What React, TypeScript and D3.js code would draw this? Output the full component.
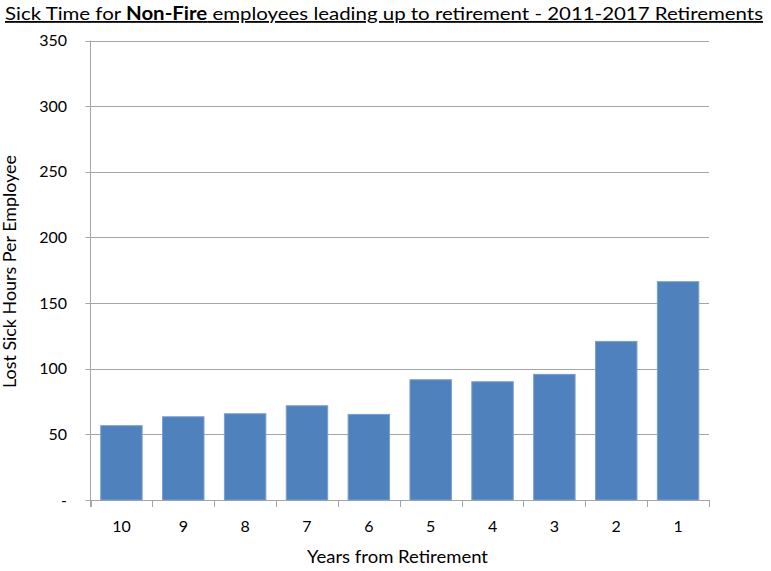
import React from "react";
import * as d3 from "d3";

const categories = ["10", "9", "8", "7", "6", "5", "4", "3", "2", "1"];
const values = [56.6, 63.4, 65.7, 71.8, 65.2, 91.6, 90.1, 95.7, 120.8, 166.3];
const yTicks = [0, 50, 100, 150, 200, 250, 300, 350];

const W = 771;
const H = 571;
const M = { left: 90.5, right: 62, top: 40.5, bottom: 71 };
const FONT = "Lato, 'Open Sans', sans-serif";

export default function App() {
  const x = d3
    .scaleBand<string>()
    .domain(categories)
    .range([M.left, W - M.right])
    .paddingInner(0.33)
    .paddingOuter(0.165);
  const y = d3.scaleLinear().domain([0, 350]).range([H - M.bottom, M.top]);
  const bandStep = (W - M.right - M.left) / categories.length;

  return (
    <svg width={W} height={H} style={{ position: "absolute", left: 0, top: 0, background: "#fff" }}>
      <text
        x={5}
        y={20}
        fontFamily={FONT}
        fontSize={18}
        textDecoration="underline"
        textLength={758}
        lengthAdjust="spacingAndGlyphs"
        fill="#000"
      >
        Sick Time for <tspan fontWeight="bold">Non-Fire</tspan> employees leading up to retirement - 2011-2017 Retirements
      </text>

      {yTicks.map((t) => (
        <g key={t}>
          <line x1={M.left - 5} x2={W - M.right} y1={Math.round(y(t)) + 0.5} y2={Math.round(y(t)) + 0.5} stroke="#a6a6a6" strokeWidth={1} />
          <text x={67} y={y(t) + 5.5} textAnchor="end" fontFamily={FONT} fontSize={16} fill="#000">
            {t === 0 ? "-" : t}
          </text>
        </g>
      ))}

      <line x1={M.left} x2={M.left} y1={M.top} y2={H - M.bottom + 7} stroke="#a6a6a6" />

      {categories.map((c, i) => (
        <rect
          key={c}
          x={x(c)}
          y={y(values[i])}
          width={x.bandwidth()}
          height={y(0) - y(values[i])}
          fill="#4f81bd"
          stroke="#7b9fd0"
          strokeWidth={1}
        />
      ))}

      {d3.range(categories.length + 1).map((i) => (
        <line
          key={i}
          x1={Math.round(M.left + i * bandStep) + 0.5}
          x2={Math.round(M.left + i * bandStep) + 0.5}
          y1={H - M.bottom}
          y2={H - M.bottom + 7}
          stroke="#a6a6a6"
        />
      ))}

      {categories.map((c) => (
        <text key={c} x={(x(c) as number) + x.bandwidth() / 2} y={532} textAnchor="middle" fontFamily={FONT} fontSize={16} fill="#000">
          {c}
        </text>
      ))}

      <text x={307} y={563} fontFamily={FONT} fontSize={17} textLength={181} lengthAdjust="spacingAndGlyphs" fill="#000">
        Years from Retirement
      </text>
      <text
        transform={`translate(16, 388) rotate(-90)`}
        fontFamily={FONT}
        fontSize={17}
        textLength={233}
        lengthAdjust="spacingAndGlyphs"
        fill="#000"
      >
        Lost Sick Hours Per Employee
      </text>
    </svg>
  );
}
